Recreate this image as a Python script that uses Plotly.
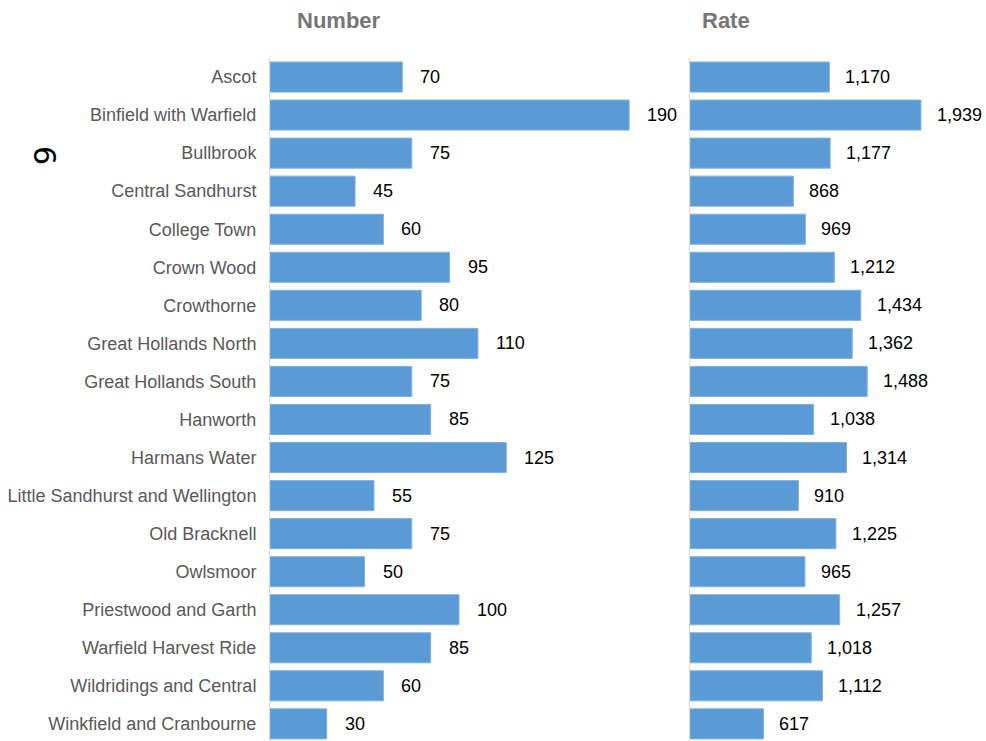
import plotly.graph_objects as go

categories = ["Ascot", "Binfield with Warfield", "Bullbrook", "Central Sandhurst",
              "College Town", "Crown Wood", "Crowthorne", "Great Hollands North",
              "Great Hollands South", "Hanworth", "Harmans Water",
              "Little Sandhurst and Wellington", "Old Bracknell", "Owlsmoor",
              "Priestwood and Garth", "Warfield Harvest Ride", "Wildridings and Central",
              "Winkfield and Cranbourne"]
number_values = [70, 190, 75, 45, 60, 95, 80, 110, 75, 85, 125, 55, 75, 50, 100, 85, 60, 30]
rate_values = [1170, 1939, 1177, 868, 969, 1212, 1434, 1362, 1488, 1038, 1314, 910,
               1225, 965, 1257, 1018, 1112, 617]
panel_titles = ["Number", "Rate"]
page_number = "6"

BAR = "#5B9BD5"
LABEL_FONT = "Liberation Sans Narrow, Arial Narrow, Liberation Sans, sans-serif"

W, H = 986, 741
TOP = 58
PH = H - TOP

def sx(px):
    return px / W

def sy(py):
    return 1 - (py - TOP) / PH

fig = go.Figure()
fig.add_trace(go.Bar(x=number_values, y=categories, orientation="h",
                     marker=dict(color=BAR, line=dict(color="#7FB1E0", width=1)),
                     xaxis="x", yaxis="y", hoverinfo="skip"))
fig.add_trace(go.Bar(x=rate_values, y=categories, orientation="h",
                     marker=dict(color=BAR, line=dict(color="#7FB1E0", width=1)),
                     xaxis="x2", yaxis="y2", hoverinfo="skip"))

ann = []
for c, v in zip(categories, number_values):
    ann.append(dict(x=v, y=c, xref="x", yref="y", text=f"{v:,}", showarrow=False,
                    xanchor="left", xshift=16,
                    font=dict(family=LABEL_FONT, size=18, color="#000000")))
for c, v in zip(categories, rate_values):
    ann.append(dict(x=v, y=c, xref="x2", yref="y2", text=f"{v:,}", showarrow=False,
                    xanchor="left", xshift=14,
                    font=dict(family=LABEL_FONT, size=18, color="#000000")))
ann.append(dict(x=sx(339), y=sy(21), xref="paper", yref="paper",
                text=f"<b>{panel_titles[0]}</b>", showarrow=False,
                xanchor="center", yanchor="middle",
                font=dict(family=LABEL_FONT, size=22, color="#767676")))
ann.append(dict(x=sx(726), y=sy(20), xref="paper", yref="paper",
                text=f"<b>{panel_titles[1]}</b>", showarrow=False,
                xanchor="center", yanchor="middle",
                font=dict(family=LABEL_FONT, size=22, color="#767676")))
ann.append(dict(x=sx(45), y=sy(155), xref="paper", yref="paper", text=page_number,
                showarrow=False, textangle=90, xanchor="center", yanchor="middle",
                font=dict(family="DejaVu Sans, sans-serif", size=30, color="#000000")))

yr = [17.45, -0.5]
fig.update_layout(
    width=W, height=H,
    margin=dict(l=0, r=0, t=TOP, b=0),
    paper_bgcolor="white", plot_bgcolor="white",
    showlegend=False, bargap=0.21,
    xaxis=dict(domain=[sx(270), sx(648)], range=[0, 200], visible=False, fixedrange=True),
    xaxis2=dict(domain=[sx(690), sx(952)], range=[0, 2200], visible=False, fixedrange=True),
    yaxis=dict(anchor="x", range=yr, type="category", showline=True, linecolor="#D9D9D9",
               linewidth=1, ticks="", showgrid=False, ticklabelstandoff=9, fixedrange=True,
               tickfont=dict(family=LABEL_FONT, size=18, color="#595959")),
    yaxis2=dict(anchor="x2", range=yr, type="category", showline=True, linecolor="#D9D9D9",
                linewidth=1, ticks="", showgrid=False, showticklabels=False, fixedrange=True),
    annotations=ann,
)
fig.write_html("out.html", config={"displayModeBar": False},
               post_script="document.body.style.margin='0';document.body.style.overflow='hidden';")
